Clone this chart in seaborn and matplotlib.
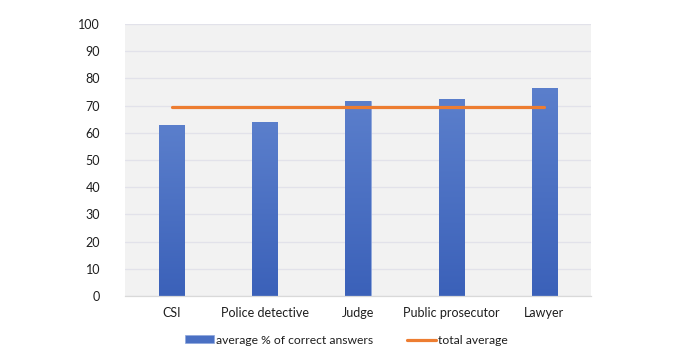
import matplotlib
matplotlib.use("Agg")
import matplotlib.pyplot as plt
import seaborn as sns
import pandas as pd
import numpy as np
from matplotlib.colors import LinearSegmentedColormap

categories = ["CSI", "Police detective", "Judge", "Public prosecutor", "Lawyer"]
correct_pct = [63.0, 64.1, 71.7, 72.5, 76.6]
total_avg = [69.6, 69.6, 69.6, 69.6, 69.6]
yticks = [0, 10, 20, 30, 40, 50, 60, 70, 80, 90, 100]

df = pd.DataFrame({"cat": categories, "val": correct_pct, "avg": total_avg})

sns.set_theme(style="white")
plt.rcParams["font.family"] = ["Lato", "DejaVu Sans"]

fig = plt.figure(figsize=(7, 3.5), dpi=100)
ax = fig.add_axes([125/700, 1-296/350, (591-125)/700, (296-24)/350])
ax.set_facecolor("#f2f2f2")

sns.barplot(data=df, x="cat", y="val", color="#4a70c3", saturation=1,
            width=0.27, ax=ax, label="average % of correct answers", zorder=2,
            edgecolor="#8ea6dc", linewidth=0.5)
sns.lineplot(x=np.arange(len(categories)), y=df["avg"], color="#ed7d31",
             linewidth=2.3, ax=ax, label="total average", zorder=3)

ax.set_ylim(0, 100)
ax.set_xlim(-0.5, len(categories) - 0.5)

# vertical gradient fill inside each bar
cmap = LinearSegmentedColormap.from_list("g", ["#3b61b9", "#5b7fcc"])
grad = np.linspace(0, 1, 256).reshape(-1, 1)
for p in list(ax.patches):
    x0, y0 = p.get_x(), p.get_y()
    w, hgt = p.get_width(), p.get_height()
    im = ax.imshow(grad, cmap=cmap, origin="lower", aspect="auto",
                   extent=[x0, x0 + w, y0, y0 + hgt], zorder=2.5)
    im.set_clip_path(p)
ax.set_xlim(-0.5, len(categories) - 0.5)
ax.set_ylim(0, 100)

ax.set_yticks(yticks)
ax.set_yticklabels([str(t) for t in yticks])
ax.yaxis.grid(True, color="#e2e2ea", linewidth=0.9, zorder=0)
ax.set_axisbelow(True)
for s in ["top", "right", "left"]:
    ax.spines[s].set_visible(False)
ax.spines["bottom"].set_color("#d9d9d9")
ax.spines["bottom"].set_linewidth(0.9)
ax.tick_params(axis="both", length=0, labelsize=9, colors="#1e1e1e", pad=8)
ax.tick_params(axis="y", pad=18)
ax.set_xlabel("")
ax.set_ylabel("")

h, l = ax.get_legend_handles_labels()
order = [l.index("average % of correct answers"), l.index("total average")]
h = [h[i] for i in order]
l = [l[i] for i in order]
leg = ax.legend(h, l, loc="center", bbox_to_anchor=(0.475, -0.162), ncol=2,
                frameon=False, fontsize=8.7, handlelength=2.4, handleheight=0.6,
                handletextpad=0.2, columnspacing=2.8, labelcolor="#1e1e1e")

fig.savefig("out.png", dpi=100, facecolor="white")
